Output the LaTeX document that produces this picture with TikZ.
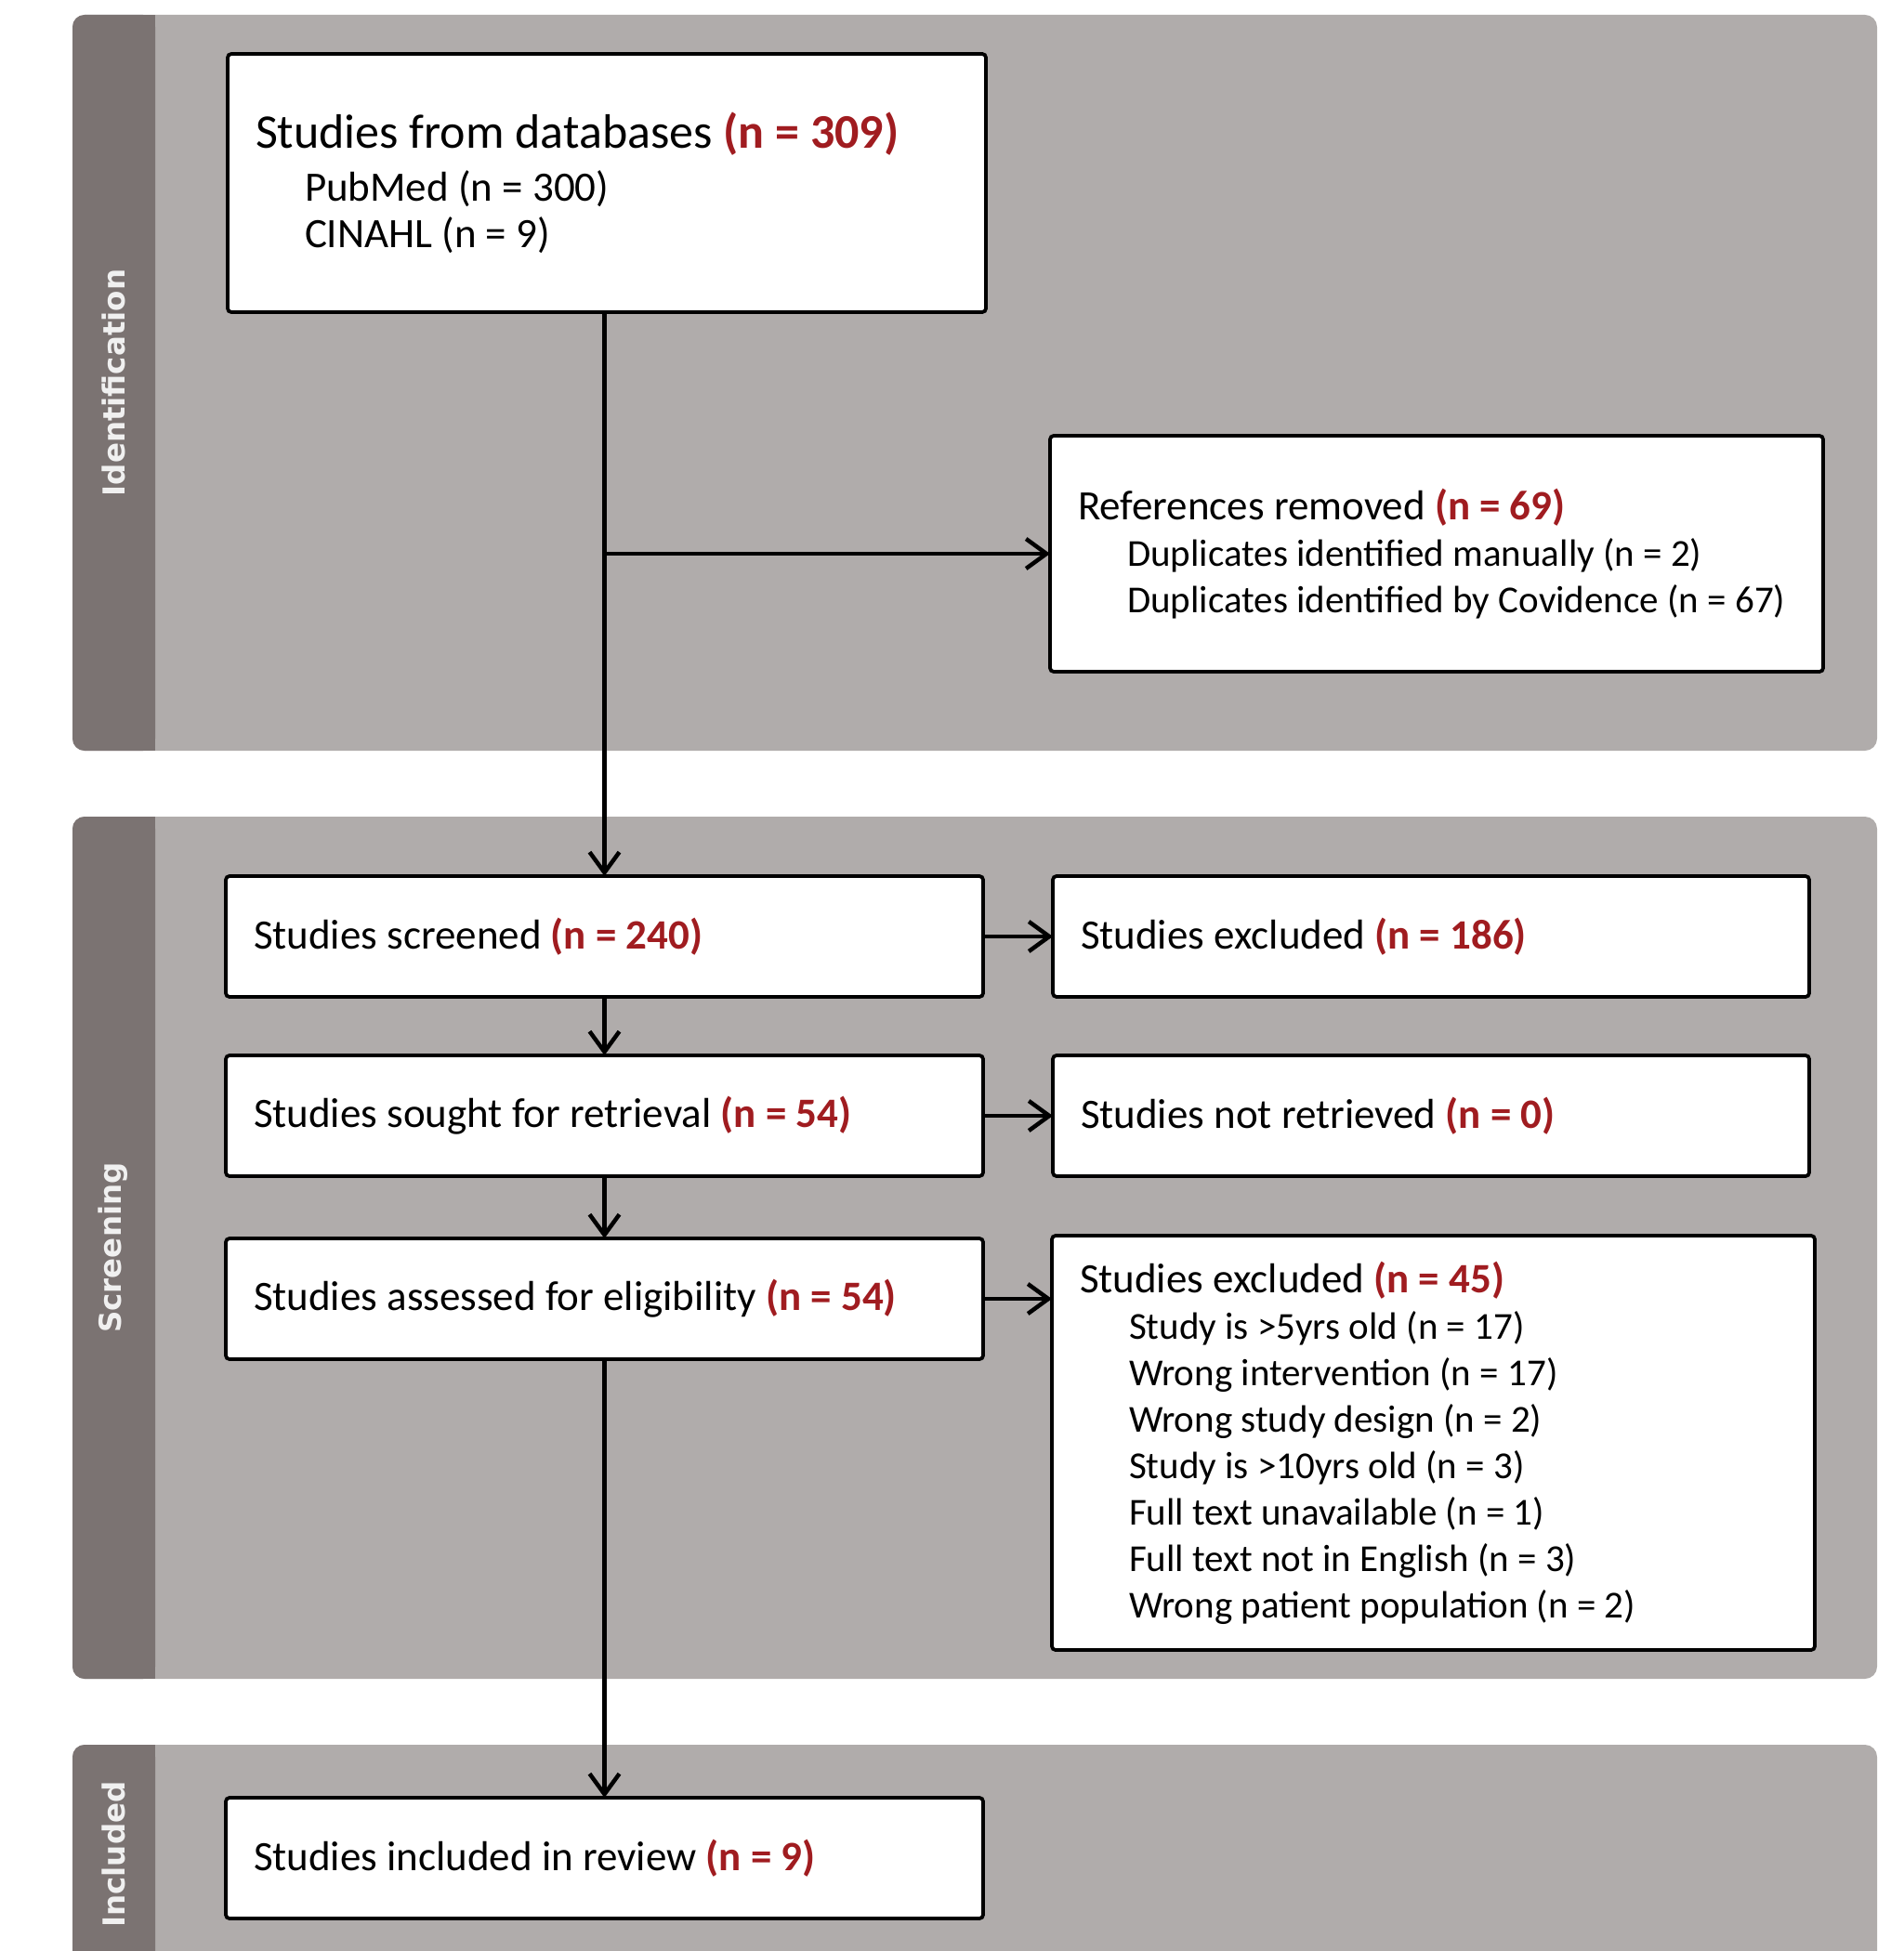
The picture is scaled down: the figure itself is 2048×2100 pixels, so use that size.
\documentclass[tikz,border=0pt]{standalone}
\usepackage{fontspec}
\setmainfont{Carlito}
\newfontfamily\labelfont{DejaVu Sans}
\usetikzlibrary{arrows.meta}
\definecolor{panel}{HTML}{B0ACAB}
\definecolor{side}{HTML}{7B7372}
\definecolor{nred}{HTML}{A01C20}
\newcommand{\nn}[1]{\textcolor{nred}{\bfseries #1}}
\newcommand{\ind}{\hspace*{53pt}}
\begin{document}
\begin{tikzpicture}[x=1pt,y=-1pt,
  box/.style={draw=black, line width=3.8pt, fill=white, rounded corners=4pt, anchor=north west,
    inner xsep=30pt, inner ysep=0pt, outer sep=0pt, align=flush left,
    font=\fontsize{45}{50}\selectfont},
  arr/.style={line width=4.5pt, -{Straight Barb[length=22pt,width=32pt,line width=4.5pt]}},
  side label/.style={rotate=90, text=white!94!black, font=\labelfont\bfseries\fontsize{32.5}{36}\selectfont}
]
\useasboundingbox (0,0) rectangle (2048,2100);
% panels
\fill[panel, rounded corners=13pt] (78,16) rectangle (2020,808);
\fill[side, rounded corners=13pt] (78,16) rectangle (167,808);
\fill[side] (140,16) rectangle (167,808);
\fill[panel, rounded corners=13pt] (78,879) rectangle (2020,1807);
\fill[side, rounded corners=13pt] (78,879) rectangle (167,1807);
\fill[side] (140,879) rectangle (167,1807);
\fill[panel, rounded corners=13pt] (78,1878) rectangle (2020,2130);
\fill[side, rounded corners=13pt] (78,1878) rectangle (167,2130);
\fill[side] (140,1878) rectangle (167,2130);
\node[side label] (lid) at (122,412) {Identification};
\node[side label] (lsc) at (122,1343) {Screening};
\node[side label] (lin) at (122,1996) {Included};
% boxes
\node[box, text width=756pt, minimum height=278pt] (b1) at (245,58)
  {{\fontsize{52}{60}\selectfont Studies from databases \nn{(n = 309)}}\\[7pt]
   \ind PubMed (n = 300)\\ \ind CINAHL (n = 9)};
\node[box, text width=772pt, minimum height=254pt] (b2) at (1130,469)
  {References removed \nn{(n = 69)}\\
   {\fontsize{41}{50}\selectfont\ind Duplicates identified manually (n = 2)}\\
   {\fontsize{41}{50}\selectfont\ind Duplicates identified by Covidence (n = 67)}};
\node[box, text width=755pt, minimum height=130pt] (b3) at (243,943)
  {Studies screened \nn{(n = 240)}};
\node[box, text width=754pt, minimum height=130pt] (b4) at (1133,943)
  {Studies excluded \nn{(n = 186)}};
\node[box, text width=755pt, minimum height=130pt] (b5) at (243,1136)
  {Studies sought for retrieval \nn{(n = 54)}};
\node[box, text width=754pt, minimum height=130pt] (b6) at (1133,1136)
  {Studies not retrieved \nn{(n = 0)}};
\node[box, text width=755pt, minimum height=130pt] (b7) at (243,1333)
  {Studies assessed for eligibility \nn{(n = 54)}};
\node[box, text width=761pt, minimum height=446pt] (b8) at (1132,1330)
  {Studies excluded \nn{(n = 45)}\\
   {\fontsize{41}{50}\selectfont\ind Study is >5yrs old (n = 17)}\\
   {\fontsize{41}{50}\selectfont\ind Wrong intervention (n = 17)}\\
   {\fontsize{41}{50}\selectfont\ind Wrong study design (n = 2)}\\
   {\fontsize{41}{50}\selectfont\ind Study is >10yrs old (n = 3)}\\
   {\fontsize{41}{50}\selectfont\ind Full text unavailable (n = 1)}\\
   {\fontsize{41}{50}\selectfont\ind Full text not in English (n = 3)}\\
   {\fontsize{41}{50}\selectfont\ind Wrong patient population (n = 2)}};
\node[box, text width=755pt, minimum height=130pt] (b9) at (243,1935)
  {Studies included in review \nn{(n = 9)}};
% connectors
\draw[arr] (b3.north |- b1.south) -- (b3.north);
\draw[arr] (b3.north |- b2.west) -- (b2.west);
\draw[arr] (b3.east) -- (b4.west);
\draw[arr] (b3.south) -- (b5.north);
\draw[arr] (b5.east) -- (b6.west);
\draw[arr] (b5.south) -- (b7.north);
\draw[arr] (b7.east) -- (b7.east -| b8.west);
\draw[arr] (b7.south) -- (b9.north);
\end{tikzpicture}
\end{document}
